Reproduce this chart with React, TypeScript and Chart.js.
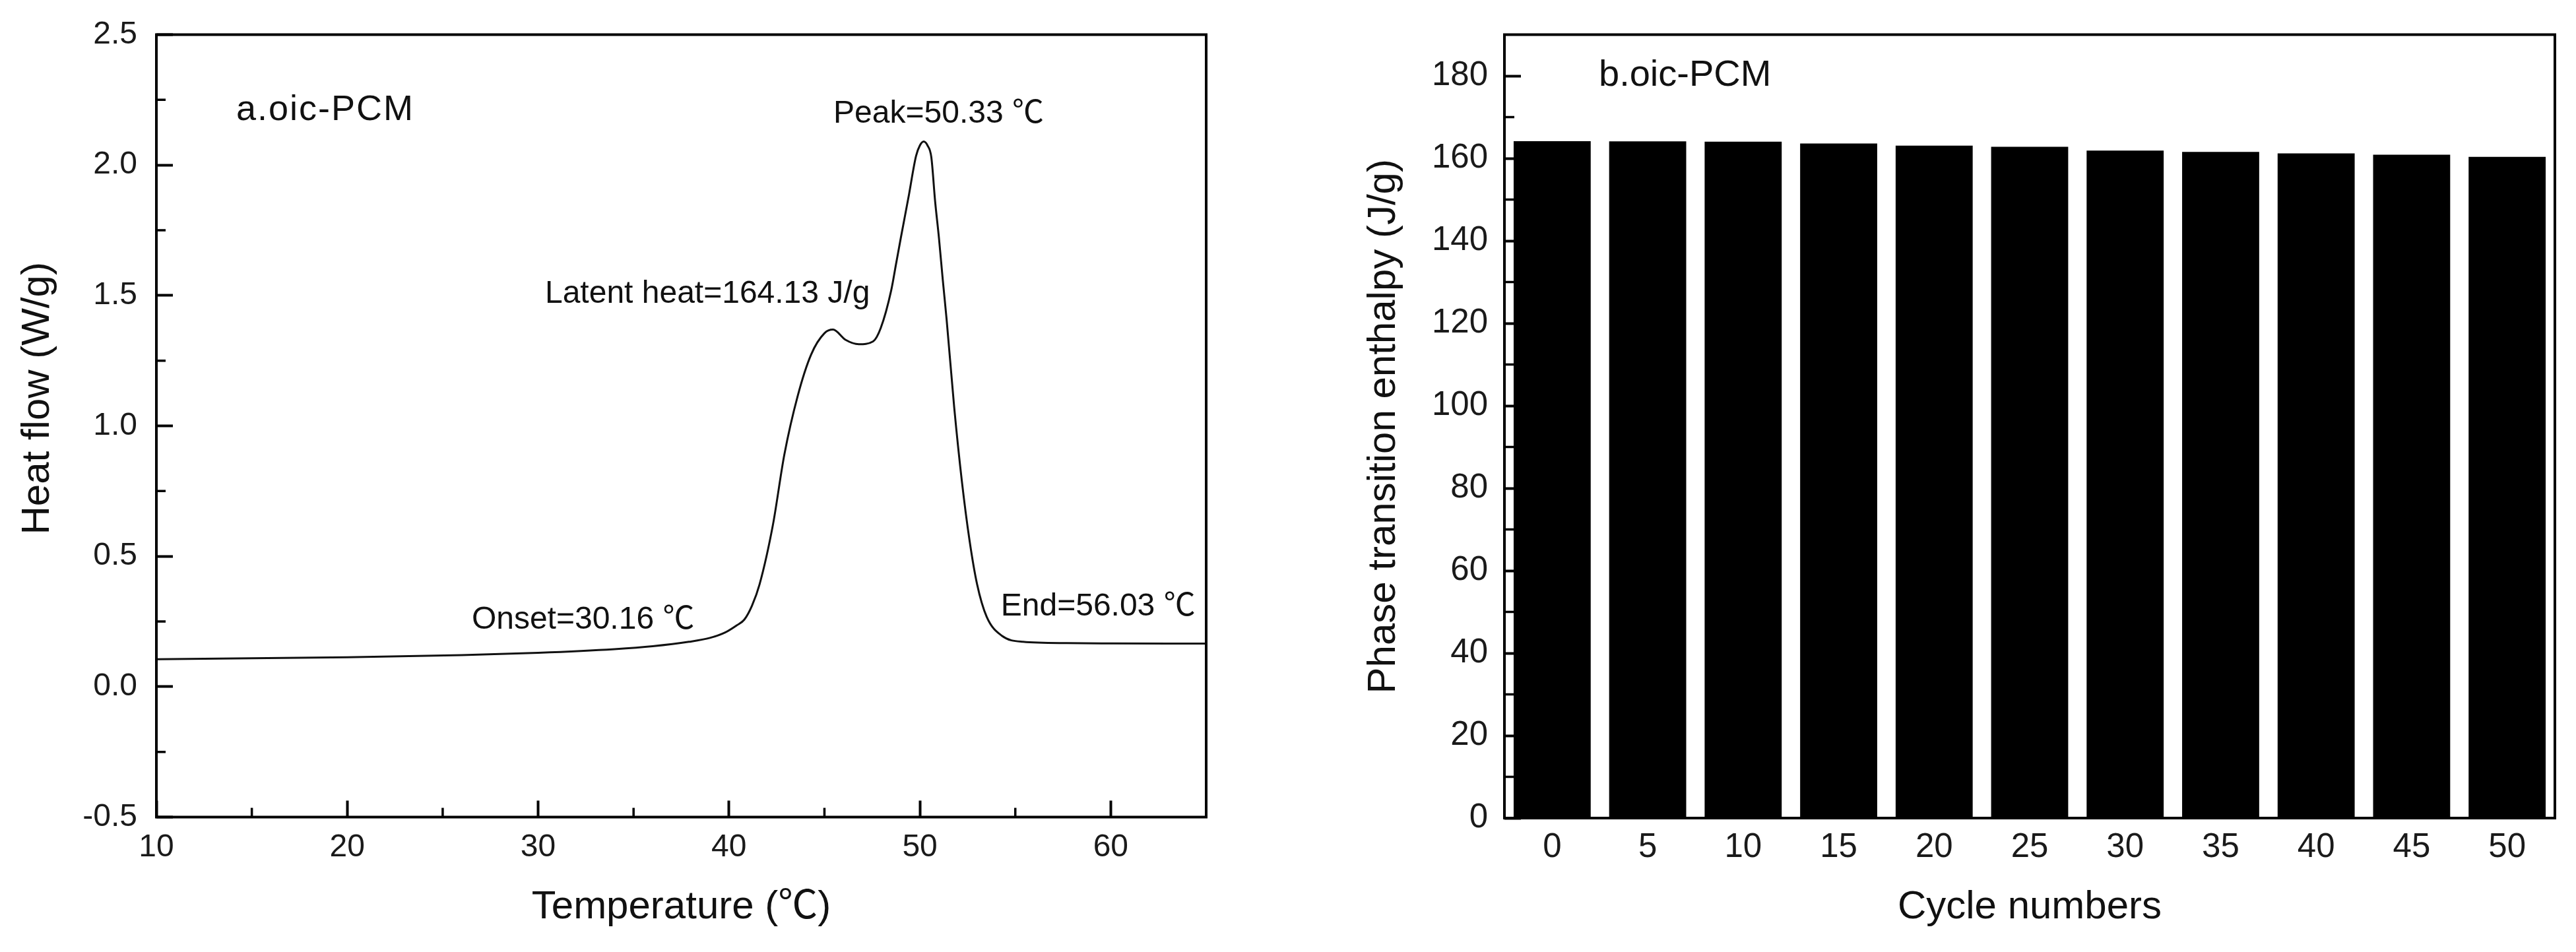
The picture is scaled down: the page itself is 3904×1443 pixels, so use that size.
import React, { useEffect, useRef } from "react";
import { Chart, registerables } from "chart.js";

Chart.register(...registerables);

// ---------- data ----------
const temperature = [10, 15, 20, 26, 30, 34, 36, 37.9, 39, 39.8, 40.4, 40.8, 41.2, 41.6, 42.3, 42.9, 43.6, 44.3, 45.0, 45.45, 46.1, 46.8, 47.55, 47.95, 48.5, 48.75, 49.0, 49.4, 49.8, 50.0, 50.2, 50.4, 50.6, 50.8, 51.0, 51.2, 51.4, 51.8, 52.2, 52.6, 53.0, 53.5, 54.3, 55.4, 57.7, 60, 65];
const heatFlow = [0.105, 0.109, 0.113, 0.121, 0.13, 0.144, 0.155, 0.172, 0.187, 0.208, 0.235, 0.257, 0.31, 0.392, 0.62, 0.89, 1.115, 1.273, 1.355, 1.369, 1.33, 1.313, 1.324, 1.375, 1.52, 1.62, 1.72, 1.875, 2.035, 2.075, 2.09, 2.075, 2.03, 1.86, 1.72, 1.56, 1.409, 1.07, 0.788, 0.562, 0.392, 0.268, 0.195, 0.172, 0.167, 0.166, 0.165];

const cycleLabels = ["0", "5", "10", "15", "20", "25", "30", "35", "40", "45", "50"];
const enthalpy = [164.16, 164.13, 164.03, 163.6, 163.1, 162.8, 161.9, 161.55, 161.2, 160.9, 160.37];

const heatMinorX = [15, 25, 35, 45, 55];
const heatMinorY = [-0.25, 0.25, 0.75, 1.25, 1.75, 2.25];
const enthalpyMinorY = [10, 30, 50, 70, 90, 110, 130, 150, 170];

const FONT = '"Liberation Sans", Arial, "Noto Sans CJK SC", sans-serif';

const leftNotes = [
  { text: "a.oic-PCM", x: 14.18, y: 2.21, size: 54, spacing: 2 },
  { text: "Peak=50.33 \u2103", x: 45.47, y: 2.195, size: 48 },
  { text: "Latent heat=164.13 J/g", x: 30.36, y: 1.505, size: 48 },
  { text: "Onset=30.16 \u2103", x: 26.52, y: 0.255, size: 48 },
  { text: "End=56.03 \u2103", x: 54.24, y: 0.306, size: 48 },
];
const rightNotes = [{ text: "b.oic-PCM", dx: 143, y: 180, size: 56 }];

const framePlugin = {
  id: "frame",
  afterDatasetsDraw(chart: any, _args: any, opts: any) {
    const { ctx, chartArea: a, scales } = chart;
    ctx.save();
    ctx.strokeStyle = "#000";
    ctx.lineWidth = 4;
    ctx.strokeRect(a.left, a.top, a.right - a.left, a.bottom - a.top);
    const ml = opts.minorLen || 14;
    ctx.lineWidth = 3.5;
    ctx.beginPath();
    (opts.minorX || []).forEach((v: number) => {
      const px = scales.x.getPixelForValue(v);
      ctx.moveTo(px, a.bottom);
      ctx.lineTo(px, a.bottom - ml);
    });
    (opts.minorY || []).forEach((v: number) => {
      const py = scales.y.getPixelForValue(v);
      ctx.moveTo(a.left, py);
      ctx.lineTo(a.left + ml, py);
    });
    ctx.stroke();
    (opts.notes || []).forEach((n: any) => {
      ctx.font = `${n.size}px ${FONT}`;
      (ctx as any).letterSpacing = n.spacing ? `${n.spacing}px` : "0px";
      ctx.fillStyle = "#111";
      ctx.textAlign = "left";
      ctx.textBaseline = "middle";
      const x = n.dx !== undefined ? a.left + n.dx : scales.x.getPixelForValue(n.x);
      const y = scales.y.getPixelForValue(n.y);
      ctx.fillText(n.text, x, y);
    });
    ctx.restore();
  },
};

const tickGrid = {
  display: true,
  drawOnChartArea: false,
  drawTicks: true,
  tickLength: -25,
  tickWidth: 4,
  tickColor: "#000",
};

const fixX = (h: number) => (s: any) => {
  s.height = h;
  s.paddingLeft = 0;
  s.paddingRight = 0;
};
const fixY = (w: number) => (s: any) => {
  s.width = w;
  s.paddingTop = 0;
  s.paddingBottom = 0;
};

function useChart(ref: React.RefObject<HTMLCanvasElement>, makeConfig: () => any) {
  useEffect(() => {
    if (!ref.current) return;
    const chart = new Chart(ref.current, makeConfig());
    return () => chart.destroy();
  }, []);
}

export default function App() {
  const leftRef = useRef<HTMLCanvasElement>(null);
  const rightRef = useRef<HTMLCanvasElement>(null);

  useChart(leftRef, () => ({
    type: "line",
    data: {
      datasets: [
        {
          data: temperature.map((t, i) => ({ x: t, y: heatFlow[i] })),
          borderColor: "#111",
          borderWidth: 3,
          pointRadius: 0,
          cubicInterpolationMode: "monotone",
          fill: false,
        },
      ],
    },
    options: {
      responsive: false,
      animation: false,
      devicePixelRatio: 1,
      layout: { padding: { top: 52.5, right: 122, left: 0, bottom: 0 } },
      plugins: {
        legend: { display: false },
        tooltip: { enabled: false },
        frame: { minorX: heatMinorX, minorY: heatMinorY, minorLen: 14, notes: leftNotes },
      },
      scales: {
        x: {
          type: "linear",
          min: 10,
          max: 65,
          afterFit: fixX(204.5),
          ticks: { stepSize: 10, includeBounds: false, padding: 42.7, color: "#1a1a1a", font: { family: FONT, size: 48 }, maxRotation: 0 },
          grid: tickGrid,
          border: { display: false },
          title: { display: true, text: "Temperature (\u2103)", color: "#111", font: { family: FONT, size: 60 }, padding: { top: 0, bottom: 32 } },
        },
        y: {
          type: "linear",
          min: -0.5,
          max: 2.5,
          afterFit: fixY(237),
          ticks: { stepSize: 0.5, includeBounds: false, padding: 54, color: "#1a1a1a", font: { family: FONT, size: 48 }, callback: (v: any) => Number(v).toFixed(1) },
          grid: tickGrid,
          border: { display: false },
          title: { display: true, text: "     Heat flow (W/g)", color: "#111", font: { family: FONT, size: 60 }, padding: { top: 21, bottom: 0 } },
        },
      },
    },
    plugins: [framePlugin],
  }));

  useChart(rightRef, () => ({
    type: "bar",
    data: {
      labels: cycleLabels,
      datasets: [
        {
          data: enthalpy,
          backgroundColor: "#000",
          borderWidth: 0,
          barPercentage: 0.807,
          categoryPercentage: 1,
        },
      ],
    },
    options: {
      responsive: false,
      animation: false,
      devicePixelRatio: 1,
      layout: { padding: { top: 52.5, right: 32, left: 0, bottom: 0 } },
      plugins: {
        legend: { display: false },
        tooltip: { enabled: false },
        frame: { minorY: enthalpyMinorY, minorLen: 15, notes: rightNotes },
      },
      scales: {
        x: {
          afterFit: fixX(203),
          grid: { display: false, drawTicks: false },
          border: { display: false },
          ticks: { padding: 14.4, color: "#1a1a1a", font: { family: FONT, size: 51 }, maxRotation: 0, autoSkip: false },
          title: { display: true, text: "Cycle numbers", color: "#111", font: { family: FONT, size: 60 }, padding: { top: 0, bottom: 32 } },
        },
        y: {
          min: 0,
          max: 190,
          afterFit: fixY(330),
          ticks: { stepSize: 20, includeBounds: false, padding: 50, color: "#1a1a1a", font: { family: FONT, size: 51 } },
          grid: tickGrid,
          border: { display: false },
          title: { display: true, text: "Phase transition enthalpy (J/g)", color: "#111", font: { family: FONT, size: 60 }, padding: { top: 111.5, bottom: 0 } },
        },
      },
    },
    plugins: [framePlugin],
  }));

  return (
    <div style={{ position: "absolute", left: 0, top: 0, width: 3904, height: 1443, background: "#fff", overflow: "hidden" }}>
      <canvas ref={leftRef} width={1950} height={1443} style={{ position: "absolute", left: 0, top: 0, width: 1950, height: 1443 }} />
      <canvas ref={rightRef} width={1954} height={1443} style={{ position: "absolute", left: 1950, top: 0, width: 1954, height: 1443 }} />
    </div>
  );
}
